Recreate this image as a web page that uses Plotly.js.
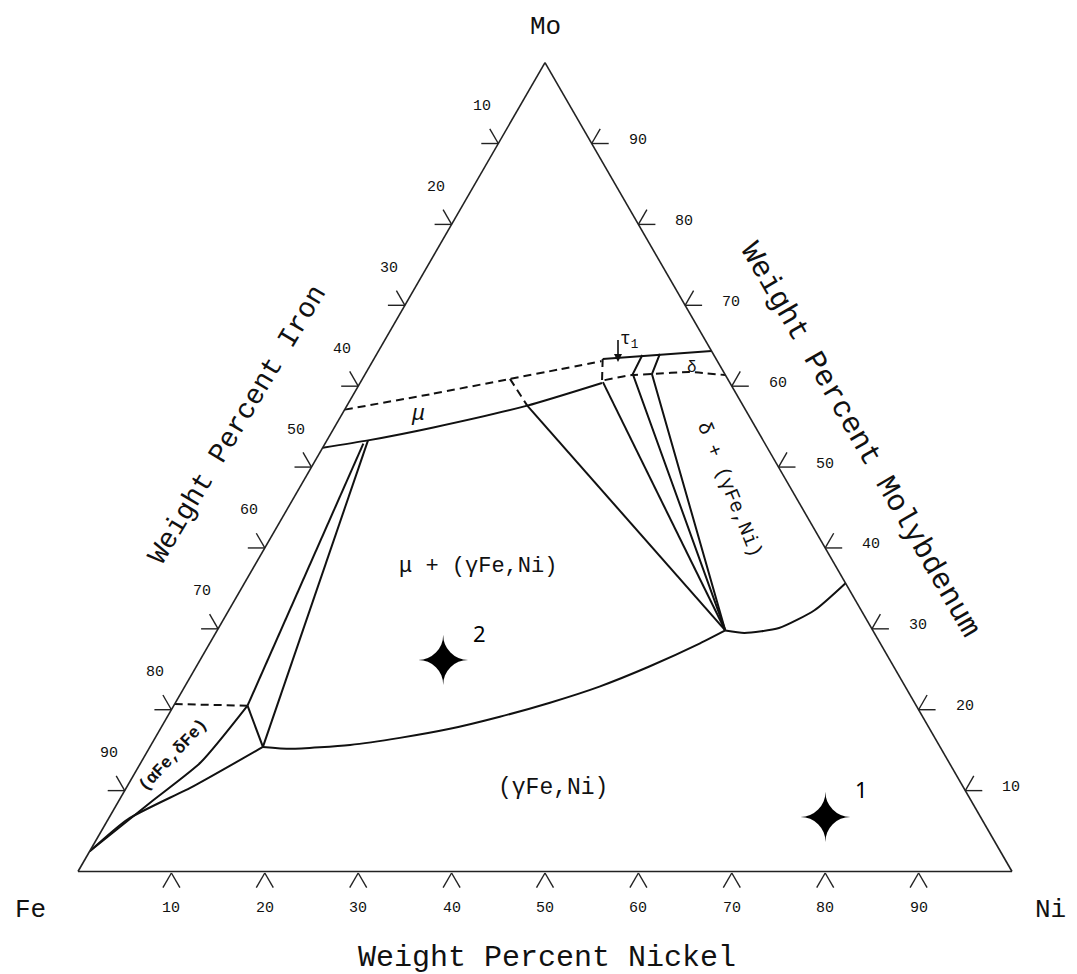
<!DOCTYPE html>
<html>
<head>
<meta charset="utf-8">
<script src="https://cdn.plot.ly/plotly-3.0.1.min.js"></script>
<style>html,body{margin:0;padding:0;background:#fff}</style>
</head>
<body>
<div id="chart" style="width:1077px;height:974px"></div>
<script>
// ---------------- data (wt% Ni, wt% Mo; Fe is the balance) ----------------
const tickValues = [10, 20, 30, 40, 50, 60, 70, 80, 90];

// upper (dashed) limit of the mu phase
const muUpperNi = [0, 8.2, 15.8, 20.6, 24.5];
const muUpperMo = [57.1, 59.0, 60.9, 62.1, 63.1];
// lower (solid) limit of the mu phase
const muLowerNi = [0, 4.4, 10.6, 19.3, 25.9];
const muLowerMo = [52.4, 53.3, 54.9, 57.6, 60.4];
// dashed part of the tie line inside mu
const tieDashNi = [15.8, 19.3];
const tieDashMo = [60.9, 57.6];
// tau1 small boundary (dashed)
const tauNi = [24.5, 25.9];
const tauMo = [63.35, 60.4];
// upper limit of delta (solid)
const deltaTopNi = [24.5, 35.65];
const deltaTopMo = [63.35, 64.35];
// lower limit of delta (dashed)
const deltaLowNi = [26.0, 28.6, 30.7, 34.6, 38.63];
const deltaLowMo = [60.75, 61.37, 61.5, 61.74, 61.37];
// tie lines converging on the three-phase corner
const tie1Ni = [19.3, 54.4];
const tie1Mo = [57.6, 29.8];
const tie2Ni = [25.95, 54.4];
const tie2Mo = [60.5, 29.8];
const tie3Ni = [28.5, 28.65, 54.4];
const tie3Mo = [63.85, 61.5, 29.8];
const tie4Ni = [30.3, 30.7, 54.4];
const tie4Mo = [64.0, 61.5, 29.8];
// (gammaFe,Ni) limit towards delta
const gammaDeltaNi = [54.4, 56.6, 60.0, 62.7, 64.35];
const gammaDeltaMo = [29.8, 29.5, 30.1, 32.3, 35.65];
// (gammaFe,Ni) limit towards mu
const gammaMuNi = [12.1, 15.2, 21.3, 26.2, 31.0, 35.6, 40.1, 44.4, 48.5, 52.5, 54.4];
const gammaMuMo = [15.4, 15.16, 15.65, 16.52, 17.64, 19.13, 20.87, 22.86, 25.34, 28.2, 29.8];
// left tie lines mu - alpha / gamma
const leftTie1Ni = [4.1, 7.9];
const leftTie1Mo = [52.9, 20.5];
const leftTie2Ni = [4.4, 12.1];
const leftTie2Mo = [53.3, 15.4];
// (alphaFe,deltaFe) region
const alphaDashNi = [0, 7.9];
const alphaDashMo = [20.7, 20.5];
const alphaShortNi = [7.9, 12.1];
const alphaShortMo = [20.5, 15.4];
const alphaUpperNi = [7.9, 6.4, 3.5, 0];
const alphaUpperMo = [20.5, 13.5, 8.57, 2.5];
const alphaLowerNi = [12.1, 7.1, 2.1, 0];
const alphaLowerMo = [15.4, 10.56, 6.46, 2.5];
// marked alloys
const alloyNi = [77.1, 26.5];
const alloyMo = [5.84, 25.2];
const alloyLabels = ['1', '2'];

// ---------------- layout geometry ----------------
const FIG_W = 1077, FIG_H = 974;
const TRI_LEFT = 78, TRI_W = 934, TRI_BOTTOM = 871.5;
const TRI_H = TRI_W * Math.sqrt(3) / 2;
const MONO = 'Liberation Mono, DejaVu Sans Mono, monospace';
const INK = '#111';

// pixel position of a composition on the same triangle as the ternary subplot
function px(mo, ni) {
  return [TRI_LEFT + (ni + mo / 2) / 100 * TRI_W, TRI_BOTTOM - mo / 100 * TRI_H];
}
const toPaperX = x => x / FIG_W;
const toPaperY = y => 1 - y / FIG_H;

const traces = [];
function boundary(ni, mo, dashed, smooth) {
  traces.push({
    type: 'scatterternary', mode: 'lines',
    a: mo, c: ni, b: mo.map((m, i) => 100 - m - ni[i]),
    line: {color: INK, width: 2, dash: dashed ? '8px,5px' : 'solid',
           shape: smooth ? 'spline' : 'linear', smoothing: 0.6},
    hoverinfo: 'skip', showlegend: false
  });
}
boundary(muUpperNi, muUpperMo, true, true);
boundary(muLowerNi, muLowerMo, false, true);
boundary(tieDashNi, tieDashMo, true, false);
boundary(tauNi, tauMo, true, false);
boundary(deltaTopNi, deltaTopMo, false, false);
boundary(deltaLowNi, deltaLowMo, true, true);
boundary(tie1Ni, tie1Mo, false, false);
boundary(tie2Ni, tie2Mo, false, false);
boundary(tie3Ni, tie3Mo, false, false);
boundary(tie4Ni, tie4Mo, false, false);
boundary(gammaDeltaNi, gammaDeltaMo, false, true);
boundary(gammaMuNi, gammaMuMo, false, true);
boundary(leftTie1Ni, leftTie1Mo, false, false);
boundary(leftTie2Ni, leftTie2Mo, false, false);
boundary(alphaDashNi, alphaDashMo, true, false);
boundary(alphaShortNi, alphaShortMo, false, false);
boundary(alphaUpperNi, alphaUpperMo, false, true);
boundary(alphaLowerNi, alphaLowerMo, false, true);

// marked alloys: four-pointed stars
traces.push({
  type: 'scatterternary', mode: 'text',
  a: alloyMo, c: alloyNi, b: alloyMo.map((m, i) => 100 - m - alloyNi[i]),
  text: alloyMo.map(() => '✦'), textposition: 'middle center',
  textfont: {family: 'DejaVu Sans', size: 66, color: '#000'},
  cliponaxis: false, hoverinfo: 'skip', showlegend: false
});

// ---------------- tick marks and tick labels ----------------
const TL = 17;
const shapes = [];
function stroke(p, ux, uy) {
  shapes.push({
    type: 'line', xref: 'paper', yref: 'paper',
    x0: toPaperX(p[0]), y0: toPaperY(p[1]),
    x1: toPaperX(p[0] + ux * TL), y1: toPaperY(p[1] + uy * TL),
    line: {color: '#222', width: 1.4}
  });
}
function ann(text, x, y, size, extra) {
  return Object.assign({
    text: text, x: toPaperX(x), y: toPaperY(y), xref: 'paper', yref: 'paper',
    showarrow: false, xanchor: 'center', yanchor: 'middle',
    font: {family: MONO, size: size, color: INK}
  }, extra || {});
}
const annotations = [];
tickValues.forEach(v => {
  // left edge: weight percent iron (Fe = v -> Mo = 100 - v, Ni = 0)
  const pl = px(100 - v, 0);
  stroke(pl, -1, 0); stroke(pl, -0.5, -0.866);
  annotations.push(ann(String(v), pl[0] - 16, pl[1] - 37, 15));
  // right edge: weight percent molybdenum (Mo = v, Ni = 100 - v)
  const pr = px(v, 100 - v);
  stroke(pr, 1, 0); stroke(pr, 0.5, -0.866);
  annotations.push(ann(String(v), pr[0] + 46, pr[1] - 3, 15));
  // bottom edge: weight percent nickel (Ni = v, Mo = 0)
  const pb = px(0, v);
  stroke([pb[0], pb[1] + 1.5], -0.5, 0.866); stroke([pb[0], pb[1] + 1.5], 0.5, 0.866);
  annotations.push(ann(String(v), pb[0], pb[1] + 37, 15));
});
// alloy numbers next to the stars
alloyNi.forEach((ni, i) => {
  const p = px(alloyMo[i], ni);
  annotations.push(ann(alloyLabels[i], p[0] + 36, p[1] - 35, 22,
    {font: {family: 'Noto Sans, Open Sans, sans-serif', size: 22, color: '#000'}}));
});

annotations.push(
  ann('Mo', 545, 27, 26),
  ann('Fe', 30, 910, 26),
  ann('Ni', 1050, 910, 26),
  ann('Weight Percent Nickel', 547, 958, 30),
  ann('Weight Percent Iron', 237, 425, 28, {textangle: -59}),
  ann('Weight Percent Molybdenum', 860, 440, 30, {textangle: 60}),
  ann('μ + (γFe,Ni)', 478, 566, 22),
  ann('(γFe,Ni)', 553, 788, 23),
  ann('δ + (γFe,Ni)', 729, 490, 20, {textangle: 68}),
  ann('<b>(αFe,δFe)</b>', 173, 755, 17, {textangle: -47}),
  ann('<i>μ</i>', 418, 414, 22),
  ann('δ', 692, 368, 16),
  ann('τ<sub>1</sub>', 618, 362, 18, {
    showarrow: true, ax: 0, ay: -22, xanchor: 'left', yanchor: 'middle',
    arrowhead: 2, arrowsize: 1, arrowwidth: 1.6, arrowcolor: INK, standoff: 0
  })
);

const axisStyle = {
  title: {text: ''}, showgrid: false, showticklabels: false, ticks: '',
  showline: true, linecolor: '#222', linewidth: 1.6, min: 0
};

const layout = {
  width: FIG_W, height: FIG_H,
  margin: {l: 0, r: 0, t: 0, b: 0},
  paper_bgcolor: '#fff',
  showlegend: false,
  ternary: {
    sum: 100,
    bgcolor: '#fff',
    domain: {
      x: [TRI_LEFT / FIG_W, (TRI_LEFT + TRI_W) / FIG_W],
      y: [(FIG_H - TRI_BOTTOM) / FIG_H, (FIG_H - TRI_BOTTOM + TRI_H) / FIG_H]
    },
    aaxis: Object.assign({}, axisStyle),
    baxis: Object.assign({}, axisStyle),
    caxis: Object.assign({}, axisStyle)
  },
  shapes: shapes,
  annotations: annotations
};

Plotly.newPlot('chart', traces, layout, {displayModeBar: false, staticPlot: true});
</script>
</body>
</html>
